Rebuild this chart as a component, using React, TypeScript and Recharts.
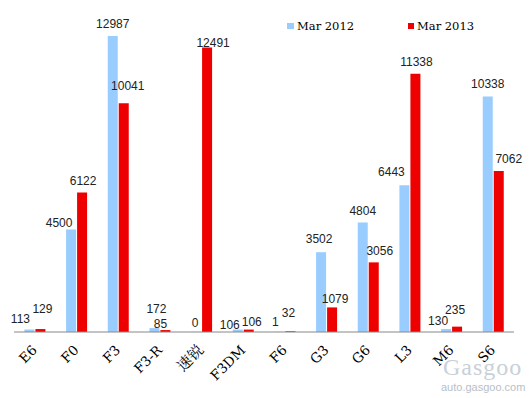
import React from "react";
import { BarChart, Bar, XAxis, YAxis, LabelList } from "recharts";

const categories = ["E6", "F0", "F3", "F3-R", "速锐", "F3DM", "F6", "G3", "G6", "L3", "M6", "S6"];
const mar2012 = [113, 4500, 12987, 172, 0, 106, 1, 3502, 4804, 6443, 130, 10338];
const mar2013 = [129, 6122, 10041, 85, 12491, 106, 32, 1079, 3056, 11338, 235, 7062];

// label nudges (style only), [dx, dy] per category
const nudge2012 = [[-9, 2], [-12, 6], [0, 0], [2, -7], [-1, 3], [-8, 7], [-4, 2], [-2, -1], [0, 0], [-13, -1], [-8, 4], [0, 0]];
const nudge2013 = [[2, -8], [1, 0], [4, -5], [-5, 6], [6, 8], [3, 4], [-2, -6], [3, 4], [6, 1], [1, 0], [-2, -5], [10, 0]];

const data = categories.map((name, i) => ({ name, a: mar2012[i], b: mar2013[i] }));

const BLUE = "#99CCFF";
const RED = "#EE0000";

const W = 531;
const H = 398;
const M = { top: 13, right: 17, left: 14, bottom: 0 };
const band = (W - M.left - M.right) / categories.length;

const Tick = (props: any) => {
  const { x, y, payload } = props;
  const cjk = /[\u4e00-\u9fff]/.test(String(payload.value));
  return (
    <g transform={`translate(${x + 3},${y + 11})`}>
      <text
        textAnchor="end"
        transform="rotate(-45)"
        fontFamily="'DejaVu Serif','Noto Serif CJK SC','Noto Sans CJK SC',serif"
        fontSize={cjk ? 15 : 13.5}
        fill="#000"
      >
        {payload.value}
      </text>
    </g>
  );
};

const makeLabel = (nudges: number[][]) => (props: any) => {
  const { x, y, width, height, value } = props;
  const nx = Number(x);
  const top = Math.min(Number(y), Number(y) + Number(height || 0));
  const idx = Math.max(0, Math.min(categories.length - 1, Math.floor((nx - M.left) / band)));
  const [dx, dy] = nudges[idx] || [0, 0];
  return (
    <text
      x={nx + Number(width) / 2 + dx}
      y={top - 8 + dy}
      textAnchor="middle"
      fontFamily="'Liberation Sans',Arial,sans-serif"
      fontSize={12}
      fill="#222"
    >
      {value}
    </text>
  );
};

export default function App() {
  return (
    <div style={{ position: "absolute", left: 0, top: 0, width: W, height: H, background: "#fff" }}>
      <BarChart width={W} height={H} data={data} margin={M} barCategoryGap="25%" barGap={1}>
        <XAxis
          dataKey="name"
          height={66}
          tickLine={false}
          axisLine={{ stroke: "#888" }}
          tick={<Tick />}
          interval={0}
        />
        <YAxis hide domain={[0, 14000]} />
        <Bar dataKey="a" fill={BLUE} minPointSize={0.2} isAnimationActive={false}>
          <LabelList dataKey="a" content={makeLabel(nudge2012)} />
        </Bar>
        <Bar dataKey="b" fill={RED} isAnimationActive={false}>
          <LabelList dataKey="b" content={makeLabel(nudge2013)} />
        </Bar>
      </BarChart>
      <div
        style={{
          position: "absolute",
          left: 287,
          top: 19,
          display: "flex",
          alignItems: "center",
          fontFamily: "'DejaVu Serif','Liberation Serif',serif",
          fontSize: 11.5,
          color: "#000",
          lineHeight: "14px",
        }}
      >
        <span style={{ display: "inline-block", width: 7, height: 6, background: BLUE, marginRight: 3 }} />
        <span style={{ width: 111 }}>Mar 2012</span>
        <span style={{ display: "inline-block", width: 6, height: 6, background: RED, marginRight: 3 }} />
        <span>Mar 2013</span>
      </div>
      <div
        style={{
          position: "absolute",
          left: 443,
          top: 354,
          fontFamily: "'Liberation Serif',serif",
          fontSize: 24,
          color: "#c8d0d8",
          letterSpacing: 1,
        }}
      >
        Gasgoo
      </div>
      <div
        style={{
          position: "absolute",
          left: 441,
          top: 381,
          fontFamily: "'Liberation Sans',sans-serif",
          fontSize: 11,
          color: "#b8c0c8",
        }}
      >
        auto.gasgoo.com
      </div>
    </div>
  );
}
